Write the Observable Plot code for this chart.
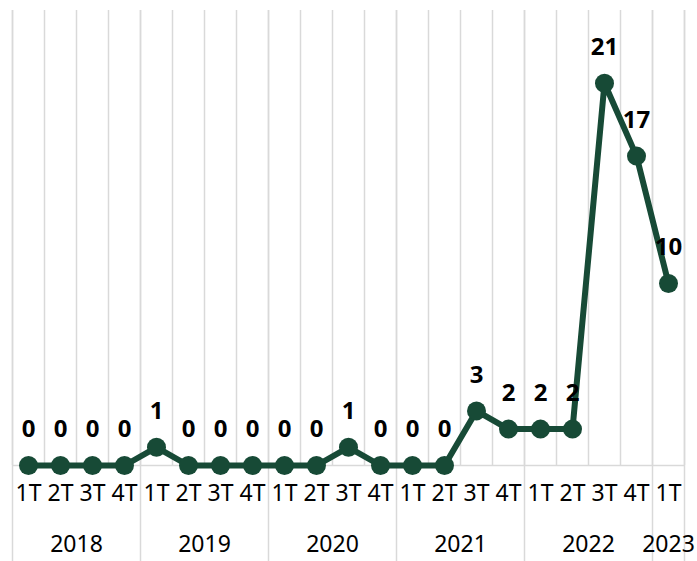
<!DOCTYPE html>
<html>
<head>
<meta charset="utf-8">
<script src="https://cdn.jsdelivr.net/npm/d3@7"></script>
<script src="https://cdn.jsdelivr.net/npm/@observablehq/plot@0.6"></script>
<style>
  html, body { margin: 0; padding: 0; background: #fff; }
  #chart { width: 697px; height: 561px; }
</style>
</head>
<body>
<div id="chart"></div>
<script>
const quarters = ["1T","2T","3T","4T","1T","2T","3T","4T","1T","2T","3T","4T","1T","2T","3T","4T","1T","2T","3T","4T","1T"];
const yearOfPoint = ["2018","2018","2018","2018","2019","2019","2019","2019","2020","2020","2020","2020","2021","2021","2021","2021","2022","2022","2022","2022","2023"];
const values = [0,0,0,0,1,0,0,0,0,0,1,0,0,0,3,2,2,2,21,17,10];
const years = ["2018","2019","2020","2021","2022","2023"];

const data = values.map((v, i) => ({i, v, q: quarters[i], year: yearOfPoint[i]}));
const n = data.length;
const yearGroups = years.map(y => {
  const idx = data.filter(d => d.year === y).map(d => d.i);
  return {year: y, center: d3.mean(idx), start: d3.min(idx) - 0.5, end: d3.max(idx) + 0.5};
});
const boundaries = d3.range(n + 1).map(k => k - 0.5);
const groupBounds = Array.from(new Set(yearGroups.flatMap(g => [g.start, g.end])));

const green = "#174a36";
const grid = "#d9d9d9";
const font = "'Noto Sans', 'Open Sans', sans-serif";

const chart = Plot.plot({
  width: 697,
  height: 561,
  marginLeft: 12,
  marginRight: 13,
  marginTop: 10,
  marginBottom: 96,
  style: {fontFamily: font, background: "#fff", overflow: "visible"},
  x: {type: "linear", domain: [-0.5, n - 0.5], axis: null},
  y: {domain: [0, 25], axis: null},
  marks: [
    Plot.ruleX(boundaries, {stroke: grid, strokeWidth: 1.5}),
    Plot.ruleX(groupBounds, {stroke: grid, strokeWidth: 1.5, insetBottom: -96}),
    Plot.ruleY([0], {stroke: grid, strokeWidth: 1.5}),
    Plot.line(data, {x: "i", y: "v", stroke: green, strokeWidth: 6, strokeLinejoin: "round"}),
    Plot.dot(data, {x: "i", y: "v", r: 9.5, fill: green, stroke: "none"}),
    Plot.text(data, {x: "i", y: "v", text: d => String(d.v), dy: -36, fontSize: 24, fontWeight: "bold", fill: "#000"}),
    Plot.text(data, {x: "i", text: "q", frameAnchor: "bottom", dy: 35, fontSize: 23, fill: "#000"}),
    Plot.text(yearGroups, {x: "center", text: "year", frameAnchor: "bottom", dy: 86, fontSize: 23, fill: "#000"})
  ]
});
document.getElementById("chart").appendChild(chart);
</script>
</body>
</html>
